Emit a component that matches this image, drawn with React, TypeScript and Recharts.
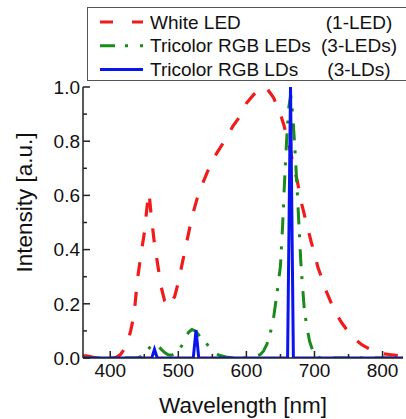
import { LineChart, Line, XAxis, YAxis, Label } from 'recharts'

// White LED (1-LED)
const whiteWl = [
  360, 365, 372, 380, 390, 400, 405, 410, 415, 420, 425, 430, 435, 440, 445, 450, 455, 457,
  460, 465, 470, 475, 480, 485, 490, 495, 500, 505, 510, 520, 530, 540, 550, 560, 570, 580,
  590, 600, 610, 620, 625, 630, 640, 650, 655, 660, 665, 670, 675, 680, 685, 690, 695, 700,
  705, 710, 715, 720, 730, 740, 750, 760, 770, 780, 790, 800, 810, 820, 830,
]
const whiteVal = [
  0.008, 0.008, 0.004, 0, 0, 0, 0, 0.004, 0.013, 0.03, 0.055, 0.1, 0.16, 0.29, 0.38, 0.46, 0.58, 0.61,
  0.53, 0.42, 0.34, 0.26, 0.21, 0.19, 0.2, 0.23, 0.28, 0.34, 0.4, 0.52, 0.61, 0.67, 0.73, 0.77, 0.81, 0.855,
  0.89, 0.94, 0.97, 0.995, 1.0, 0.995, 0.96, 0.9, 0.86, 0.81, 0.76, 0.7, 0.65, 0.58, 0.53, 0.48, 0.43, 0.385,
  0.335, 0.3, 0.26, 0.23, 0.17, 0.13, 0.095, 0.068, 0.048, 0.034, 0.022, 0.016, 0.013, 0.01, 0.006,
]

// Tricolor RGB LEDs (3-LEDs)
const ledWl = [
  360, 440, 445, 450, 455, 460, 465, 470, 475, 480, 485, 490, 495, 500, 505, 510, 515, 520, 525,
  530, 535, 540, 545, 550, 555, 560, 570, 580, 600, 610, 620, 625, 630, 635, 640, 645, 650, 653,
  656, 659, 662, 665, 668, 672, 675, 678, 680, 682, 685, 689, 693, 697, 702, 708, 830,
]
const ledVal = [
  0, 0, 0.005, 0.015, 0.03, 0.045, 0.055, 0.045, 0.032, 0.02, 0.012, 0.01, 0.017, 0.028, 0.045, 0.07, 0.095, 0.105, 0.1,
  0.085, 0.07, 0.058, 0.042, 0.028, 0.018, 0.01, 0.004, 0, 0, 0.005, 0.012, 0.025, 0.05, 0.09, 0.15, 0.24, 0.34, 0.48,
  0.65, 0.8, 0.92, 0.97, 0.9, 0.74, 0.6, 0.45, 0.35, 0.28, 0.18, 0.11, 0.06, 0.03, 0.01, 0, 0,
]

// Tricolor RGB LDs (3-LDs)
const ldWl = [360, 461, 465, 469, 522, 526, 530, 660.5, 664.8, 669, 830]
const ldVal = [0, 0, 0.032, 0, 0, 0.103, 0, 0, 1.0, 0, 0]

const xTicks = [400, 450, 500, 550, 600, 650, 700, 750, 800]
const xMajor = [400, 500, 600, 700, 800]
const yTicks = [0, 0.1, 0.2, 0.3, 0.4, 0.5, 0.6, 0.7, 0.8, 0.9, 1.0]
const yMajor = [0, 0.2, 0.4, 0.6, 0.8, 1.0]

const FONT = '"Liberation Sans", Arial, sans-serif'
const AXIS = '#222'
const TXT = '#111'

const toPoints = (xs: number[], ys: number[]) => xs.map((x, i) => ({ x, y: ys[i] }))

const series = [
  { name: 'White LED', note: '(1-LED)', color: '#f21b1b', width: 3.2, dash: '14 16', legendDash: '13 19', data: toPoints(whiteWl, whiteVal) },
  { name: 'Tricolor RGB LEDs', note: '(3-LEDs)', color: '#1a8a1a', width: 3, dash: '17 10 3 12', legendDash: '15 10 3 12', data: toPoints(ledWl, ledVal) },
  { name: 'Tricolor RGB LDs', note: '(3-LDs)', color: '#0a14f0', width: 3, dash: undefined, legendDash: undefined, data: toPoints(ldWl, ldVal) },
]

function BottomTick({ x, y, payload }: any) {
  const major = xMajor.includes(payload.value)
  return (
    <g>
      <line x1={x} x2={x} y1={y} y2={y - (major ? 7 : 4)} stroke={AXIS} strokeWidth={1.5} />
      {major && (
        <text x={x} y={y + 19} textAnchor="middle" fontSize={19} fontFamily={FONT} fill={TXT}>
          {payload.value}
        </text>
      )}
    </g>
  )
}

function TopTick({ x, y, payload }: any) {
  const major = xMajor.includes(payload.value)
  return <line x1={x} x2={x} y1={y} y2={y + (major ? 7 : 4)} stroke={AXIS} strokeWidth={1.5} />
}

function LeftTick({ x, y, payload }: any) {
  const major = yMajor.some((v) => Math.abs(v - payload.value) < 1e-6)
  return (
    <g>
      <line x1={x} x2={x + (major ? 7 : 4)} y1={y} y2={y} stroke={AXIS} strokeWidth={1.5} />
      {major && (
        <text x={x - 3} y={y} dy="0.36em" textAnchor="end" fontSize={19} fontFamily={FONT} fill={TXT}>
          {payload.value.toFixed(1)}
        </text>
      )}
    </g>
  )
}

function RightTick({ x, y, payload }: any) {
  const major = yMajor.some((v) => Math.abs(v - payload.value) < 1e-6)
  return <line x1={x} x2={x - (major ? 7 : 4)} y1={y} y2={y} stroke={AXIS} strokeWidth={1.5} />
}

function LegendBox() {
  return (
    <svg width={406} height={90} style={{ position: 'absolute', left: 0, top: 0, pointerEvents: 'none' }}>
      <rect x={87.5} y={7.5} width={330} height={73} fill="none" stroke="#555" strokeWidth={1} />
      {series.map((s, i) => {
        const base = 28.5 + i * 23.7
        return (
          <g key={s.name}>
            <line x1={100} x2={143} y1={base - 6.5} y2={base - 6.5} stroke={s.color} strokeWidth={3} strokeDasharray={s.legendDash} />
            <text x={150} y={base} fontSize={19} fontFamily={FONT} fill={TXT}>{s.name}</text>
            <text x={359} y={base} fontSize={19} fontFamily={FONT} fill={TXT} textAnchor="middle">{s.note}</text>
          </g>
        )
      })}
    </svg>
  )
}

export default function App() {
  return (
    <div style={{ position: 'absolute', left: 0, top: 0, width: 406, height: 419, background: '#fff' }}>
      <LineChart width={406} height={419} margin={{ top: 87, right: 3, bottom: 0, left: 0 }}>
        <XAxis
          dataKey="x"
          type="number"
          domain={[360, 830]}
          allowDataOverflow
          ticks={xTicks}
          interval={0}
          height={61}
          tickSize={0}
          tickMargin={0}
          tickLine={false}
          tick={BottomTick}
          axisLine={{ stroke: AXIS, strokeWidth: 1.5 }}
        >
          <Label
            value="Wavelength [nm]"
            position="insideBottom"
            offset={6}
            style={{ fontSize: 22.5, fontFamily: FONT, fill: TXT }}
          />
        </XAxis>
        <XAxis
          xAxisId="top"
          orientation="top"
          dataKey="x"
          type="number"
          domain={[360, 830]}
          allowDataOverflow
          ticks={xTicks}
          interval={0}
          height={0}
          tickSize={0}
          tickMargin={0}
          tickLine={false}
          tick={TopTick}
          axisLine={{ stroke: AXIS, strokeWidth: 1.5 }}
        />
        <YAxis
          type="number"
          domain={[0, 1]}
          allowDataOverflow
          ticks={yTicks}
          interval={0}
          width={83}
          tickSize={0}
          tickMargin={0}
          tickLine={false}
          tick={LeftTick}
          axisLine={{ stroke: AXIS, strokeWidth: 1.5 }}
        >
          <Label
            value="Intensity [a.u.]"
            position="center"
            angle={-90}
            dx={-17}
            dy={-20}
            style={{ fontSize: 22.5, fontFamily: FONT, fill: TXT }}
          />
        </YAxis>
        <YAxis
          yAxisId="right"
          orientation="right"
          type="number"
          domain={[0, 1]}
          allowDataOverflow
          ticks={yTicks}
          interval={0}
          width={0}
          tickSize={0}
          tickMargin={0}
          tickLine={false}
          tick={RightTick}
          axisLine={{ stroke: AXIS, strokeWidth: 1.5 }}
        />
        {series.map((s) => (
          <Line
            key={s.name}
            data={s.data}
            dataKey="y"
            type="linear"
            stroke={s.color}
            strokeWidth={s.width}
            strokeDasharray={s.dash}
            dot={false}
            activeDot={false}
            isAnimationActive={false}
          />
        ))}
      </LineChart>
      <LegendBox />
    </div>
  )
}
